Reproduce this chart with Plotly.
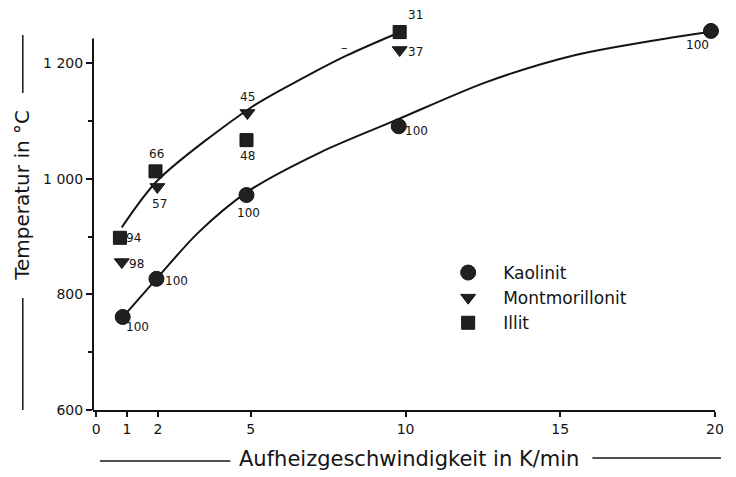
import plotly.graph_objects as go

# Heating rate (K/min) and temperature (°C) per clay mineral
kaolinit_x = [0.86, 1.95, 4.86, 9.78, 19.87]
kaolinit_y = [761, 827, 972, 1091, 1256]
kaolinit_pct = ["100", "100", "100", "100", "100"]

montmorillonit_x = [0.83, 1.98, 4.89, 9.81]
montmorillonit_y = [856, 986, 1114, 1223]
montmorillonit_pct = ["98", "57", "45", "37"]

illit_x = [0.77, 1.92, 4.86, 9.81]
illit_y = [898, 1013, 1067, 1254]
illit_pct = ["94", "66", "48", "31"]

# Hand-drawn trend curves
upper_curve_x = [0.83, 2.0, 5.02, 6.74, 8.12, 9.6]
upper_curve_y = [916, 998, 1124, 1176, 1214, 1249]
lower_curve_x = [0.9, 1.95, 3.3, 4.9, 7.25, 9.71, 12.59, 15.46, 18.66, 19.84]
lower_curve_y = [763, 827, 907, 978, 1046, 1102, 1167, 1214, 1245, 1254]

x_ticks = [0, 1, 2, 5, 10, 15, 20]
y_ticks = [600, 800, 1000, 1200]
y_tick_text = ["600", "800", "1 000", "1 200"]

FONT = "DejaVu Sans"
INK = "#141414"
MARK = "#202020"

W, H = 736, 477
L, R, T, B = 93, 14, 24, 67
pw, ph = W - L - R, H - T - B


def px(xp):
    return (xp - L) / pw


def py(yp):
    return (H - B - yp) / ph


fig = go.Figure()

for cx, cy in [(upper_curve_x, upper_curve_y), (lower_curve_x, lower_curve_y)]:
    fig.add_trace(go.Scatter(
        x=cx, y=cy, mode="lines", line=dict(color=INK, width=2, shape="spline", smoothing=0.8),
        showlegend=False, hoverinfo="skip"))

# label offsets (pixels) next to each marker
series = [
    ("Kaolinit", kaolinit_x, kaolinit_y, kaolinit_pct, "circle", 15,
     [(15, -10), (20, -2), (2, -18), (18, -5), (-13, -14)]),
    ("Montmorillonit", montmorillonit_x, montmorillonit_y, montmorillonit_pct, "triangle-down", 13,
     [(15, -2), (2, -17), (0, 16), (16, -2)]),
    ("Illit", illit_x, illit_y, illit_pct, "square", 13,
     [(14, 0), (1, 17), (1, -16), (16, 17)]),
]

for name, xs, ys, pct, sym, size, offs in series:
    fig.add_trace(go.Scatter(
        x=xs, y=ys, mode="markers", name=name,
        marker=dict(symbol=sym, size=size, color=MARK, line=dict(color=INK, width=1)),
        cliponaxis=False))
    for xv, yv, t, (dx, dy) in zip(xs, ys, pct, offs):
        fig.add_annotation(x=xv, y=yv, text=t, showarrow=False, xshift=dx, yshift=dy,
                           xanchor="center", yanchor="middle",
                           font=dict(family=FONT, size=12, color=INK))

# y axis line drawn up to the top tick region only
fig.add_shape(type="line", xref="paper", yref="y", x0=0, x1=0, y0=600, y1=1243,
              line=dict(color=INK, width=2))

# decorative rules beside the axis titles
for (x0, y0, x1, y1) in [(22, 35, 22, 93), (22, 298, 22, 410),
                         (100, 461, 232, 461), (598, 458, 728, 458)]:
    fig.add_shape(type="line", xref="paper", yref="paper",
                  x0=px(x0), y0=py(y0), x1=px(x1), y1=py(y1),
                  line=dict(color=INK, width=1.5))

fig.add_annotation(xref="paper", yref="paper", x=px(347), y=py(47), text="–",
                   xanchor="center", yanchor="middle",
                   showarrow=False, font=dict(family=FONT, size=13, color=INK))

# axis titles
fig.add_annotation(xref="paper", yref="paper", x=px(413), y=py(459), text="Aufheizgeschwindigkeit in K/min",
                   xanchor="center", yanchor="middle",
                   showarrow=False, font=dict(family=FONT, size=21, color=INK))
fig.add_annotation(xref="paper", yref="paper", x=px(21), y=py(195), text="Temperatur in °C",
                   xanchor="center", yanchor="middle",
                   textangle=-90, showarrow=False, font=dict(family=FONT, size=20, color=INK))

fig.update_layout(
    width=W, height=H,
    margin=dict(l=L, r=R, t=T, b=B),
    paper_bgcolor="white", plot_bgcolor="white",
    font=dict(family=FONT, color=INK),
    xaxis=dict(
        range=[-0.1, 20.0], tickvals=x_ticks, ticks="outside", ticklen=5, tickwidth=1.5,
        tickcolor=INK, showline=True, linecolor=INK, linewidth=2, showgrid=False,
        zeroline=False, tickfont=dict(family=FONT, size=14, color=INK),
    ),
    yaxis=dict(
        range=[600, 1268], tickvals=y_ticks, ticktext=y_tick_text, ticks="outside",
        ticklen=6, tickwidth=1.5, tickcolor=INK, showline=False, showgrid=False,
        zeroline=False, tickfont=dict(family=FONT, size=14, color=INK),
        minor=dict(tickvals=[700, 900, 1100], ticks="outside", ticklen=4,
                   tickcolor=INK, tickwidth=1.5),
    ),
    legend=dict(x=px(437), y=py(255), xanchor="left", yanchor="top",
                font=dict(family=FONT, size=17, color=INK), bgcolor="rgba(0,0,0,0)",
                itemwidth=60, tracegroupgap=6),
)

fig.write_html("out.html")
